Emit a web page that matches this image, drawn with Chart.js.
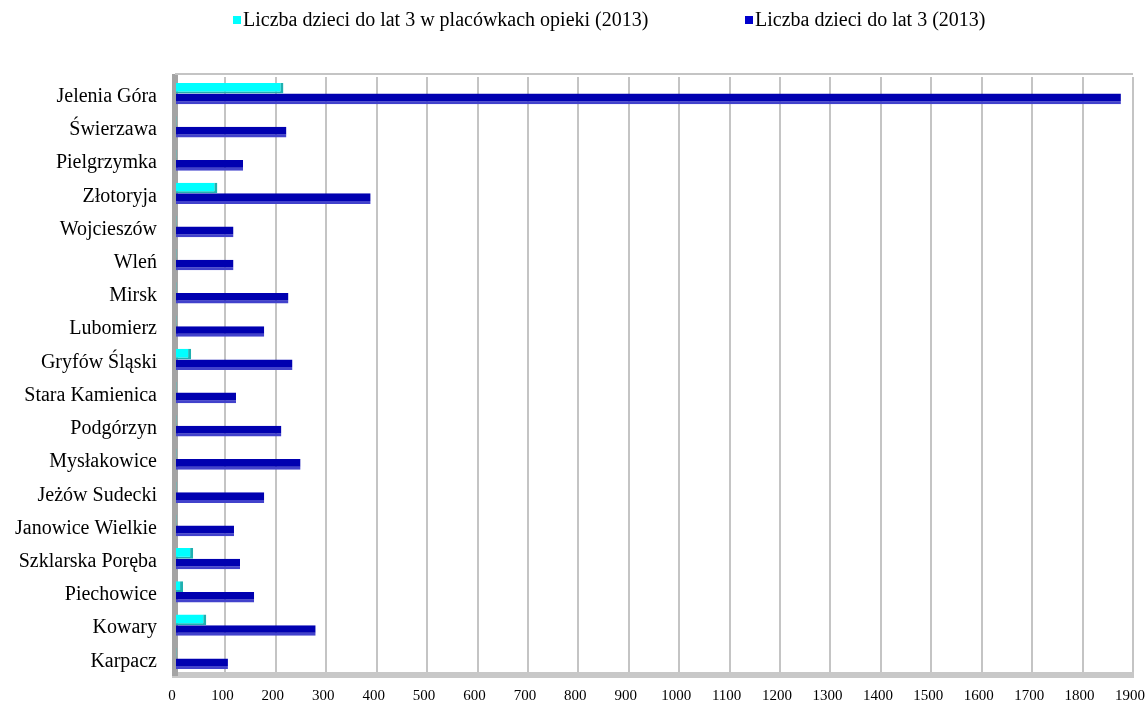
<!DOCTYPE html>
<html>
<head>
<meta charset="utf-8">
<script src="https://cdn.jsdelivr.net/npm/chart.js@4.4.1/dist/chart.umd.min.js"></script>
<style>
  html, body { margin: 0; padding: 0; background: #fff; }
  #wrap { width: 1147px; height: 705px; position: relative; }
  #legend { position: absolute; top: 0; left: 0; width: 1147px; height: 40px; font-family: 'Liberation Serif'; font-size: 20px; color: #000; }
  .item { position: absolute; top: 8px; white-space: nowrap; }
  .box { display: inline-block; width: 8px; height: 8px; margin-right: 2px; vertical-align: 2px; }
</style>
</head>
<body>
<div id="wrap">
  <canvas id="chart"></canvas>
  <div id="legend"></div>
</div>
<script>
// Gminy (od góry)
const categories = ['Jelenia Góra', 'Świerzawa', 'Pielgrzymka', 'Złotoryja', 'Wojcieszów', 'Wleń',
  'Mirsk', 'Lubomierz', 'Gryfów Śląski', 'Stara Kamienica', 'Podgórzyn', 'Mysłakowice',
  'Jeżów Sudecki', 'Janowice Wielkie', 'Szklarska Poręba', 'Piechowice', 'Kowary', 'Karpacz'];

// Liczba dzieci do lat 3 w placówkach opieki (2013)
const inCare = [215, 3, 3, 84, 3, 3, 3, 3, 32, 3, 3, 3, 3, 3, 36, 16, 62, 3];
// Liczba dzieci do lat 3 (2013)
const allChildren = [1876, 221, 135, 388, 116, 116, 225, 177, 233, 121, 211, 249, 177, 117, 129, 157, 279, 105];

const seriesNames = ['Liczba dzieci do lat 3 w placówkach opieki (2013)', 'Liczba dzieci do lat 3 (2013)'];
const seriesColors = ['#00ffff', '#0000b0'];
const legendBoxColors = ['#00ffff', '#0000cc'];

const xMax = 1900;
const xStep = 100;

// gray frame: top line of the back wall
const framePlugin = {
  id: 'frame',
  beforeDatasetsDraw(chart) {
    const a = chart.chartArea, ctx = chart.ctx;
    ctx.save();
    ctx.strokeStyle = '#c4c4c4';
    ctx.lineWidth = 2;
    ctx.beginPath();
    ctx.moveTo(a.left, a.top - 3);
    ctx.lineTo(a.right, a.top - 3);
    ctx.stroke();
    ctx.restore();
  }
};

const chart = new Chart(document.getElementById('chart').getContext('2d'), {
  type: 'bar',
  data: {
    labels: categories,
    datasets: [
      {
        label: seriesNames[0],
        data: inCare,
        backgroundColor: seriesColors[0],
        borderColor: '#1fb0b0',
        borderWidth: { right: 3, bottom: 2, top: 0, left: 0 },
        borderSkipped: false
      },
      {
        label: seriesNames[1],
        data: allChildren,
        backgroundColor: seriesColors[1],
        borderColor: '#4242cc',
        borderWidth: { right: 0, bottom: 3, top: 0, left: 0 },
        borderSkipped: false
      }
    ]
  },
  options: {
    indexAxis: 'y',
    responsive: true,
    maintainAspectRatio: false,
    animation: false,
    layout: { padding: { top: 77, right: 14, left: 0, bottom: 0 } },
    datasets: { bar: { categoryPercentage: 0.64, barPercentage: 1.0 } },
    plugins: {
      legend: { display: false },
      tooltip: { enabled: false }
    },
    scales: {
      x: {
        min: 0,
        max: xMax,
        afterFit(scale) {
          scale.height = 30;
          scale.paddingLeft = 0;
          scale.paddingRight = 0;
        },
        ticks: {
          stepSize: xStep,
          color: '#000',
          font: { family: 'Liberation Serif', size: 15 },
          padding: 12,
          labelOffset: -3,
          callback: (v) => String(v)
        },
        grid: { color: '#c4c4c4', lineWidth: 2, drawTicks: false },
        border: { color: '#c8c8c8', width: 6 }
      },
      y: {
        afterFit(scale) { scale.width = 175; },
        ticks: {
          color: '#000',
          font: { family: 'Liberation Serif', size: 20 },
          padding: 10,
          labelOffset: 3
        },
        grid: { display: false },
        border: { color: '#a4a4a4', width: 6 }
      }
    }
  },
  plugins: [framePlugin]
});

// legend built from the datasets
const legendLeft = [233, 745];
const legendEl = document.getElementById('legend');
chart.data.datasets.forEach(function (ds, i) {
  const item = document.createElement('span');
  item.className = 'item';
  item.style.left = legendLeft[i] + 'px';
  const box = document.createElement('span');
  box.className = 'box';
  box.style.background = legendBoxColors[i];
  item.appendChild(box);
  item.appendChild(document.createTextNode(ds.label));
  legendEl.appendChild(item);
});
</script>
</body>
</html>
